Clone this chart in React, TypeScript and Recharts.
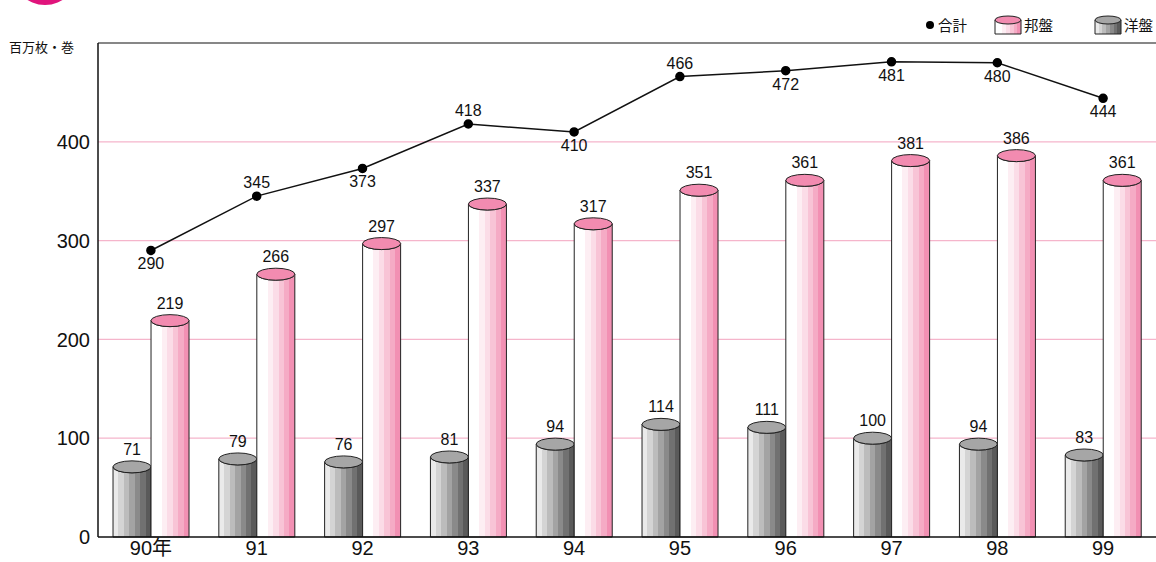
import React from "react";
import {
  ComposedChart, Bar, Line, XAxis, YAxis, CartesianGrid, ReferenceLine, LabelList,
} from "recharts";

// values in 百万枚・巻
const years = ["90年", "91", "92", "93", "94", "95", "96", "97", "98", "99"];
const foreign = [71, 79, 76, 81, 94, 114, 111, 100, 94, 83]; // 洋盤
const domestic = [219, 266, 297, 337, 317, 351, 361, 381, 386, 361]; // 邦盤
const total = [290, 345, 373, 418, 410, 466, 472, 481, 480, 444]; // 合計
const yTicks = [0, 100, 200, 300, 400];

// where each total label sits relative to its point
const totalLabelBelow = [true, false, true, false, true, false, true, true, true, true];

const data = years.map((year, i) => ({
  year,
  foreign: foreign[i],
  domestic: domestic[i],
  total: total[i],
}));

const FONT = '"Liberation Sans", Arial, "Noto Sans CJK JP", sans-serif';

const pinkStops = ["#ffffff", "#ffffff", "#fdeef3", "#fbdce7", "#f8c4d6", "#f5abc5", "#f290b3"];
const grayStops = ["#eaeaea", "#d4d4d4", "#bcbcbc", "#a3a3a3", "#8a8a8a", "#717171", "#5a5a5a"];

function Stripes({ id, colors }: { id: string; colors: string[] }) {
  const n = colors.length;
  return (
    <linearGradient id={id} x1="0" y1="0" x2="1" y2="0">
      {colors.map((c, i) => (
        <React.Fragment key={i}>
          <stop offset={i / n} stopColor={c} />
          <stop offset={(i + 1) / n} stopColor={c} />
        </React.Fragment>
      ))}
    </linearGradient>
  );
}

const makeCylinder = (grad: string, top: string) => (props: any) => {
  const { x, y, width, height } = props;
  if (height == null || width == null) return null;
  const ry = 6;
  const bottom = y + height;
  return (
    <g>
      <path
        d={`M${x},${y} L${x},${bottom} L${x + width},${bottom} L${x + width},${y} A${width / 2},${ry} 0 0 1 ${x},${y} Z`}
        fill={`url(#${grad})`}
        stroke="#222"
        strokeWidth={1}
      />
      <ellipse cx={x + width / 2} cy={y} rx={width / 2} ry={ry} fill={top} stroke="#222" strokeWidth={1} />
    </g>
  );
};

const PinkCylinder = makeCylinder("pinkGrad", "#f28bb0");
const GrayCylinder = makeCylinder("grayGrad", "#a6a6a6");

const TotalLabel = (props: any) => {
  const { x, y, value, index } = props;
  const below = totalLabelBelow[index];
  return (
    <text
      x={x}
      y={below ? y + 19 : y - 8}
      textAnchor="middle"
      fontSize={16}
      fontFamily={FONT}
      fill="#111"
    >
      {value}
    </text>
  );
};

function LegendIcon({ grad, top }: { grad: string; top: string }) {
  return (
    <svg width={28} height={20} style={{ display: "block" }}>
      <path d="M1,5 L1,19 L27,19 L27,5" fill={`url(#${grad}L)`} stroke="#222" />
      <ellipse cx={14} cy={5} rx={13} ry={4} fill={top} stroke="#222" />
    </svg>
  );
}

export default function App() {
  return (
    <div style={{ position: "absolute", left: 0, top: 0, width: 1156, height: 562, background: "#fff", fontFamily: FONT }}>
      <svg width={0} height={0} style={{ position: "absolute" }}>
        <defs>
          <Stripes id="pinkGradL" colors={pinkStops} />
          <Stripes id="grayGradL" colors={grayStops} />
        </defs>
      </svg>
      <svg width={100} height={10} style={{ position: "absolute", left: 0, top: 0 }}>
        <circle cx={45} cy={-28} r={33} fill="#e0147c" />
      </svg>
      <div style={{ position: "absolute", left: 9, top: 37, fontSize: 13, color: "#111" }}>百万枚・巻</div>

      <div style={{ position: "absolute", top: 14, left: 926, display: "flex", alignItems: "center", fontSize: 14.5, color: "#111" }}>
        <span style={{ display: "inline-block", width: 8, height: 8, borderRadius: 4, background: "#000", marginRight: 4 }} />
        <span style={{ marginRight: 27 }}>合計</span>
        <LegendIcon grad="pinkGrad" top="#f28bb0" />
        <span style={{ marginLeft: 2, marginRight: 41 }}>邦盤</span>
        <LegendIcon grad="grayGrad" top="#a6a6a6" />
        <span style={{ marginLeft: 2 }}>洋盤</span>
      </div>

      <ComposedChart
        width={1156}
        height={562}
        data={data}
        margin={{ top: 43, right: 0, bottom: 0, left: 0 }}
        barCategoryGap="14.2%"
        barGap={0}
      >
        <defs>
          <Stripes id="pinkGrad" colors={pinkStops} />
          <Stripes id="grayGrad" colors={grayStops} />
        </defs>
        <CartesianGrid vertical={false} horizontalValues={[100, 200, 300, 400]} stroke="#f5b5cb" strokeWidth={1.2} />
        <ReferenceLine y={500} stroke="#111" strokeWidth={1.2} />
        <XAxis
          dataKey="year"
          height={25}
          tickLine={false}
          axisLine={{ stroke: "#111", strokeWidth: 1.5 }}
          tick={{ fontSize: 20, fill: "#111", fontFamily: FONT }}
          tickSize={2}
          tickMargin={2}
        />
        <YAxis
          width={98}
          domain={[0, 500]}
          ticks={yTicks}
          tickLine={false}
          axisLine={{ stroke: "#111", strokeWidth: 1.5 }}
          tick={{ fontSize: 20, fill: "#111", fontFamily: FONT }}
          tickSize={4}
          tickMargin={4}
        />
        <Bar dataKey="foreign" shape={GrayCylinder} isAnimationActive={false}>
          <LabelList dataKey="foreign" position="top" offset={12} fontSize={16} fill="#111" fontFamily={FONT} />
        </Bar>
        <Bar dataKey="domestic" shape={PinkCylinder} isAnimationActive={false}>
          <LabelList dataKey="domestic" position="top" offset={12} fontSize={16} fill="#111" fontFamily={FONT} />
        </Bar>
        <Line
          dataKey="total"
          stroke="#111"
          strokeWidth={1.5}
          dot={{ r: 4, fill: "#000", stroke: "#000" }}
          isAnimationActive={false}
        >
          <LabelList dataKey="total" content={TotalLabel} />
        </Line>
      </ComposedChart>
    </div>
  );
}
